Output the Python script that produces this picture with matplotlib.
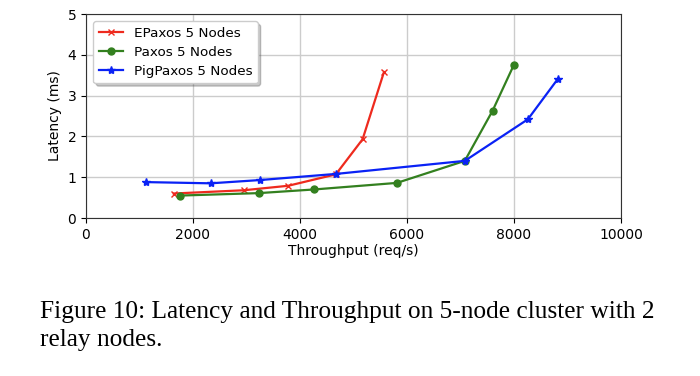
import matplotlib
matplotlib.use('Agg')
import matplotlib.pyplot as plt

# Throughput (req/s) and latency (ms)
epaxos_tput = [1640, 2950, 3780, 4670, 5170, 5570]
epaxos_lat = [0.60, 0.68, 0.79, 1.07, 1.93, 3.58]

paxos_tput = [1760, 3230, 4270, 5810, 7080, 7600, 8000]
paxos_lat = [0.55, 0.61, 0.70, 0.86, 1.40, 2.63, 3.76]

pig_tput = [1120, 2330, 3250, 4670, 7080, 8260, 8820]
pig_lat = [0.88, 0.85, 0.93, 1.08, 1.40, 2.42, 3.41]

caption_lines = ["Figure 10: Latency and Throughput on 5-node cluster with 2",
                 "relay nodes."]


def main():
    fig = plt.figure(figsize=(7, 3.76), dpi=100)
    ax = fig.add_axes([86 / 700, 1 - 218 / 376, 535 / 700, 204 / 376])

    ax.plot(epaxos_tput, epaxos_lat, color='#ee2a1e', marker='x', markersize=5,
            linewidth=1.6, label='EPaxos 5 Nodes')
    ax.plot(paxos_tput, paxos_lat, color='#33801f', marker='o', markersize=5,
            linewidth=1.6, label='Paxos 5 Nodes')
    ax.plot(pig_tput, pig_lat, color='#0a22f5', marker='*', markersize=6,
            linewidth=1.6, label='PigPaxos 5 Nodes')

    ax.set_xlim(0, 10000)
    ax.set_ylim(0, 5)
    ax.set_xticks([0, 2000, 4000, 6000, 8000, 10000])
    ax.set_yticks([0, 1, 2, 3, 4, 5])
    ax.tick_params(labelsize=10)
    ax.set_xlabel('Throughput (req/s)', fontsize=10, labelpad=2)
    ax.set_ylabel('Latency (ms)', fontsize=10)
    ax.grid(True, color='#cccccc', linewidth=1)
    ax.set_axisbelow(True)
    for s in ax.spines.values():
        s.set_color('#333333')

    ax.legend(loc='upper left', fontsize=9.7, shadow={'alpha': 0.3}, fancybox=True,
              framealpha=1, edgecolor='#cccccc', borderaxespad=0.55,
              handlelength=1.8, labelspacing=0.45)

    # caption below the plot, two lines like the paper
    for i, line in enumerate(caption_lines):
        fig.text(40 / 700, 1 - (318 + 28 * i) / 376, line,
                 family='Liberation Serif', fontsize=18.3,
                 va='baseline', ha='left')

    fig.savefig('out.png', dpi=100)
    plt.close(fig)


if __name__ == '__main__':
    main()
